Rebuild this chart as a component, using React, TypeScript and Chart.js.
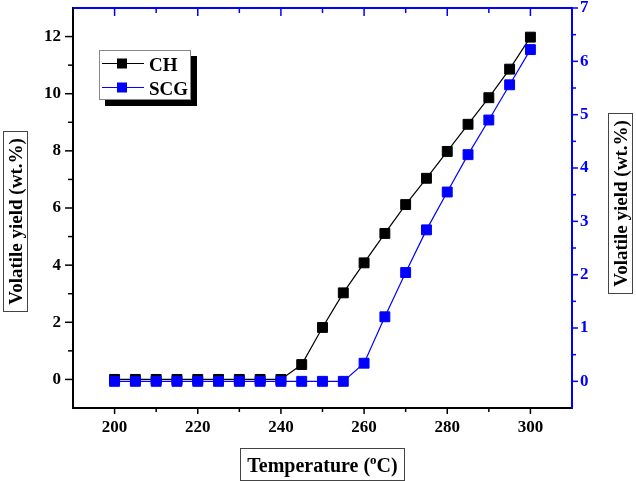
import React, { useEffect, useRef } from "react";
import { Chart, registerables } from "chart.js";

Chart.register(...registerables);

const temperatures = [200, 205, 210, 215, 220, 225, 230, 235, 240, 245, 250, 255, 260, 265, 270, 275, 280, 285, 290, 295, 300];
const chYield = [0, 0, 0, 0, 0, 0, 0, 0, 0, 0.52, 1.82, 3.03, 4.08, 5.11, 6.12, 7.04, 7.98, 8.93, 9.86, 10.86, 11.98];
const scgYield = [0, 0, 0, 0, 0, 0, 0, 0, 0, 0, 0, 0, 0.34, 1.21, 2.04, 2.84, 3.55, 4.25, 4.9, 5.56, 6.22];
const seriesNames = ["CH", "SCG"];
const xTickValues = [200, 220, 240, 260, 280, 300];
const leftTickValues = [0, 2, 4, 6, 8, 10, 12];
const rightTickValues = [0, 1, 2, 3, 4, 5, 6, 7];
const xTitle = ["Temperature (", "o", "C)"];
const yTitle = "Volatile yield (wt.%)";

const FONT = '"Liberation Serif", "Times New Roman", serif';
const BLUE = "#0000ff";

const decorPlugin = {
  id: "decor",
  afterDraw(chart: any) {
    const ctx = chart.ctx;
    const { left, right, top, bottom } = chart.chartArea;
    const xs = chart.scales.x;
    const yl = chart.scales.y;
    const yr = chart.scales.y1;
    ctx.save();
    // axes lines
    ctx.lineWidth = 2;
    ctx.strokeStyle = "#000";
    ctx.beginPath();
    ctx.moveTo(left, top - 1);
    ctx.lineTo(left, bottom + 1);
    ctx.moveTo(left - 1, bottom);
    ctx.lineTo(right, bottom);
    ctx.stroke();
    ctx.strokeStyle = BLUE;
    ctx.beginPath();
    ctx.moveTo(left, top);
    ctx.lineTo(right + 1, top);
    ctx.moveTo(right, top - 1);
    ctx.lineTo(right, bottom + 1);
    ctx.stroke();

    ctx.lineWidth = 1.5;
    // bottom & top ticks
    for (let v = 200; v <= 300; v += 10) {
      const px = xs.getPixelForValue(v);
      const major = v % 20 === 0;
      ctx.strokeStyle = "#000";
      ctx.beginPath();
      ctx.moveTo(px, bottom);
      ctx.lineTo(px, bottom + (major ? 6 : 4));
      ctx.stroke();
      ctx.strokeStyle = BLUE;
      ctx.beginPath();
      ctx.moveTo(px, top);
      ctx.lineTo(px, top + (major ? 8 : 5));
      ctx.stroke();
    }
    // left ticks
    ctx.strokeStyle = "#000";
    for (let v = 0; v <= 12; v += 1) {
      const py = yl.getPixelForValue(v);
      ctx.beginPath();
      ctx.moveTo(left, py);
      ctx.lineTo(left - (v % 2 === 0 ? 8 : 5), py);
      ctx.stroke();
    }
    // right ticks
    ctx.strokeStyle = BLUE;
    for (let v = 0; v <= 7; v += 0.5) {
      const py = yr.getPixelForValue(v);
      ctx.beginPath();
      ctx.moveTo(right, py);
      ctx.lineTo(right + (v % 1 === 0 ? 6 : 4), py);
      ctx.stroke();
    }

    // legend
    ctx.fillStyle = "#000";
    ctx.fillRect(105, 56, 92, 50);
    ctx.fillStyle = "#fff";
    ctx.fillRect(99, 50, 92, 50);
    ctx.strokeStyle = "#888";
    ctx.lineWidth = 1;
    ctx.strokeRect(99.5, 50.5, 91, 49);
    const legendColors = ["#000", BLUE];
    const legendY = [63.5, 87.5];
    ctx.font = `bold 19px ${FONT}`;
    ctx.textBaseline = "alphabetic";
    ctx.textAlign = "left";
    seriesNames.forEach((name, i) => {
      const y = legendY[i];
      ctx.strokeStyle = legendColors[i];
      ctx.lineWidth = 1.2;
      ctx.beginPath();
      ctx.moveTo(102, y);
      ctx.lineTo(144, y);
      ctx.stroke();
      ctx.fillStyle = legendColors[i];
      ctx.fillRect(117, y - 5, 10, 10);
      ctx.fillStyle = "#000";
      ctx.fillText(name, 149, y + 7);
    });

    // axis titles with boxes
    ctx.strokeStyle = "#444";
    ctx.lineWidth = 1;
    ctx.fillStyle = "#000";
    ctx.font = `bold 19px ${FONT}`;
    ctx.textAlign = "center";
    ctx.textBaseline = "middle";
    // left
    ctx.strokeRect(3.5, 131.5, 24, 180);
    ctx.save();
    ctx.translate(16, 221.5);
    ctx.rotate(-Math.PI / 2);
    ctx.fillText(yTitle, 0, 1);
    ctx.restore();
    // right
    ctx.strokeRect(608.5, 113.5, 24, 180);
    ctx.save();
    ctx.translate(621, 203.5);
    ctx.rotate(-Math.PI / 2);
    ctx.fillText(yTitle, 0, 1);
    ctx.restore();
    // bottom
    ctx.strokeRect(240.5, 448.5, 164, 32);
    const mainFont = `bold 20px ${FONT}`;
    const supFont = `bold 13px ${FONT}`;
    ctx.font = mainFont;
    const w1 = ctx.measureText(xTitle[0]).width;
    const w3 = ctx.measureText(xTitle[2]).width;
    ctx.font = supFont;
    const w2 = ctx.measureText(xTitle[1]).width;
    const total = w1 + w2 + w3;
    let cx = 322.5 - total / 2;
    const base = 472;
    ctx.textAlign = "left";
    ctx.textBaseline = "alphabetic";
    ctx.font = mainFont;
    ctx.fillText(xTitle[0], cx, base);
    cx += w1;
    ctx.font = supFont;
    ctx.fillText(xTitle[1], cx, base - 8);
    cx += w2;
    ctx.font = mainFont;
    ctx.fillText(xTitle[2], cx, base);
    ctx.restore();
  },
};

export default function App() {
  const ref = useRef<HTMLCanvasElement>(null);
  useEffect(() => {
    if (!ref.current) return;
    const tickFont = { family: FONT, size: 17, weight: "bold" as const };
    const chart = new Chart(ref.current, {
      type: "line",
      data: {
        datasets: [
          {
            label: seriesNames[0],
            data: temperatures.map((t, i) => ({ x: t, y: chYield[i] })),
            borderColor: "#000",
            backgroundColor: "#000",
            borderWidth: 1.2,
            pointStyle: "rect",
            pointRadius: 7,
            pointBorderWidth: 1,
            pointBorderColor: "#000",
            pointBackgroundColor: "#000",
            yAxisID: "y",
            order: 1,
          },
          {
            label: seriesNames[1],
            data: temperatures.map((t, i) => ({ x: t, y: scgYield[i] })),
            borderColor: BLUE,
            backgroundColor: BLUE,
            borderWidth: 1.2,
            pointStyle: "rect",
            pointRadius: 7,
            pointBorderWidth: 1,
            pointBorderColor: BLUE,
            pointBackgroundColor: BLUE,
            yAxisID: "y1",
            order: 0,
          },
        ],
      },
      options: {
        responsive: false,
        animation: false,
        devicePixelRatio: 1,
        layout: { padding: { top: 6, left: 0, right: 0, bottom: 0 } },
        plugins: { legend: { display: false }, tooltip: { enabled: false } },
        scales: {
          x: {
            type: "linear",
            position: "bottom",
            min: 190,
            max: 310,
            grid: { display: false, drawTicks: false },
            border: { display: false },
            ticks: { font: tickFont, color: "#000", padding: 9, maxRotation: 0 },
            afterBuildTicks: (s: any) => {
              s.ticks = xTickValues.map((v) => ({ value: v }));
            },
            afterFit: (s: any) => {
              s.height = 73;
              s.paddingLeft = 0;
              s.paddingRight = 0;
            },
          },
          y: {
            type: "linear",
            position: "left",
            min: -1,
            max: 13,
            grid: { display: false, drawTicks: false },
            border: { display: false },
            ticks: { font: tickFont, color: "#000", padding: 12 },
            afterBuildTicks: (s: any) => {
              s.ticks = leftTickValues.map((v) => ({ value: v }));
            },
            afterFit: (s: any) => {
              s.width = 73;
              s.paddingTop = 0;
              s.paddingBottom = 0;
            },
          },
          y1: {
            type: "linear",
            position: "right",
            min: -0.5,
            max: 7,
            grid: { display: false, drawTicks: false },
            border: { display: false },
            ticks: { font: tickFont, color: BLUE, padding: 8 },
            afterBuildTicks: (s: any) => {
              s.ticks = rightTickValues.map((v) => ({ value: v }));
            },
            afterFit: (s: any) => {
              s.width = 64;
              s.paddingTop = 0;
              s.paddingBottom = 0;
            },
          },
        },
      },
      plugins: [decorPlugin],
    });
    return () => chart.destroy();
  }, []);
  return (
    <div style={{ position: "fixed", left: 0, top: 0, width: 636, height: 481, background: "#fff" }}>
      <canvas ref={ref} width={636} height={481} style={{ display: "block" }} />
    </div>
  );
}
